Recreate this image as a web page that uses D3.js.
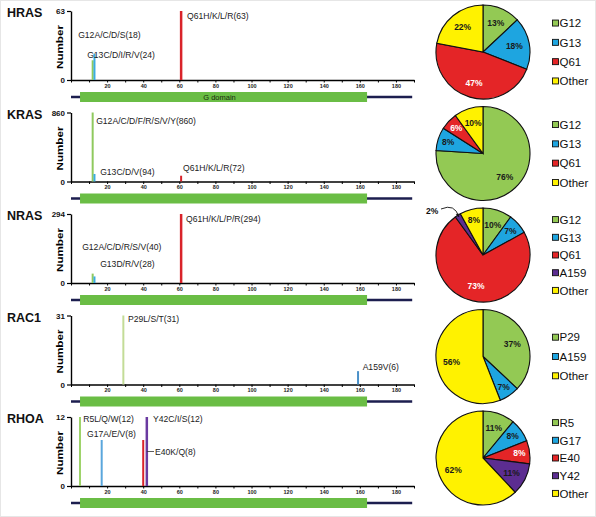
<!DOCTYPE html>
<html><head><meta charset="utf-8">
<script src="https://cdn.jsdelivr.net/npm/d3@7"></script>
<style>body{margin:0;background:#fff}svg{display:block}</style>
</head><body>
<script>
// ---------- DATA ----------
const genes = ["HRAS", "KRAS", "NRAS", "RAC1", "RHOA"];
const yMax = [63, 860, 294, 31, 12];
const mutPos = [[12, 13, 61], [12, 13, 61], [12, 13, 61], [29, 159], [5, 17, 40, 42]];
const mutCount = [[18, 24, 63], [860, 94, 72], [40, 28, 294], [31, 6], [12, 8, 8, 12]];
const mutLabel = [
  ["G12A/C/D/S(18)", "G13C/D/I/R/V(24)", "Q61H/K/L/R(63)"],
  ["G12A/C/D/F/R/S/V/Y(860)", "G13C/D/V(94)", "Q61H/K/L/R(72)"],
  ["G12A/C/D/R/S/V(40)", "G13D/R/V(28)", "Q61H/K/L/P/R(294)"],
  ["P29L/S/T(31)", "A159V(6)"],
  ["R5L/Q/W(12)", "G17A/E/V(8)", "E40K/Q(8)", "Y42C/I/S(12)"]
];
const mutKey = [["G12","G13","Q61"],["G12","G13","Q61"],["G12","G13","Q61"],["P29","A159"],["R5","G17","E40","Y42"]];
const xTicks = [20, 40, 60, 80, 100, 120, 140, 160, 180];
const domainRange = [5, 164];
const proteinEnd = 189;
const domainName = "G domain";
const pieCats = [
  ["G12", "G13", "Q61", "Other"],
  ["G12", "G13", "Q61", "Other"],
  ["G12", "G13", "Q61", "A159", "Other"],
  ["P29", "A159", "Other"],
  ["R5", "G17", "E40", "Y42", "Other"]
];
const piePct = [
  [13, 18, 47, 22],
  [76, 8, 6, 10],
  [10, 7, 73, 2, 8],
  [37, 7, 56],
  [11, 8, 8, 11, 62]
];

// ---------- LAYOUT / STYLE ----------
const W = 596, H = 517;
const pieColorBySlot = ["#93c954", "#1ea5e0", "#e42527", "#5c2d91", "#fff200"];
function pieColor(panel, i) {
  const cat = pieCats[panel][i];
  if (cat === "Other") return "#fff200";
  const n = pieCats[panel].length;
  return pieColorBySlot[i];
}
const barColor = {
  "G12": "#8fc95e", "G13": "#3aace0", "Q61": "#d9232a",
  "P29": "#c3dc97", "A159": "#4a90c8",
  "R5": "#9ed36a", "G17": "#5aa6dc", "E40": "#d9232a", "Y42": "#6a3aa0"
};
// label offsets (px) relative to the stem x and panel baseline
const labelDx = [[-14.5, -7.3, 6], [3.5, 5.7, 2], [-10.5, 5.7, 5], [4.7, 4.6], [3.2, -14.6, 11.8, 6.2]];
const labelDy = [[-42, -22, -61], [-58, -7, -11], [-33, -16, -61], [-63, -15], [-64, -49, -31.5, -64]];

const svg = d3.select("body").append("svg").attr("width", W).attr("height", H)
  .style("font-family", "Arial, 'Liberation Sans', Helvetica, sans-serif");
svg.append("rect").attr("x", 0.5).attr("y", 0.5).attr("width", W - 1).attr("height", H - 1)
  .attr("fill", "#fff").attr("stroke", "#e6e6e6");

const x = d3.scaleLinear().domain([0, 190]).range([71, 414]);

genes.forEach((gene, p) => {
  const y0 = 80 + p * 101.5;
  const y = d3.scaleLinear().domain([0, yMax[p]]).range([y0, y0 - 69]);
  const g = svg.append("g");

  // gene name
  g.append("text").attr("x", 7).attr("y", y0 - 63).text(gene)
    .attr("font-size", 12.5).attr("font-weight", "bold").attr("fill", "#111");

  // Number label
  g.append("text").attr("transform", `translate(63,${y0 - 33}) rotate(-90)`)
    .attr("text-anchor", "middle").attr("font-size", 9.5).attr("font-weight", "bold")
    .attr("textLength", 44).attr("lengthAdjust", "spacingAndGlyphs").text("Number");

  // y axis
  const yAxis = d3.axisLeft(y).tickValues([0, yMax[p]]).tickSize(4).tickPadding(2).tickSizeOuter(0);
  const ya = g.append("g").attr("transform", `translate(${x(0)},0)`).call(yAxis);
  ya.select(".domain").attr("stroke", "#000").attr("stroke-width", 1.4);
  ya.selectAll(".tick line").attr("stroke-width", 1.2);
  ya.selectAll("text").attr("font-size", 8).attr("font-weight", "bold").attr("font-family", "Arial, 'Liberation Sans', sans-serif").attr("fill", "#111");

  // x axis
  const xAxis = d3.axisBottom(x).tickValues(d3.range(0, 191, 10)).tickSize(2.5).tickPadding(1.5).tickSizeOuter(0)
    .tickFormat(d => xTicks.includes(d) ? d : "");
  const xa = g.append("g").attr("transform", `translate(0,${y0})`).call(xAxis);
  xa.select(".domain").attr("stroke", "#000").attr("stroke-width", 1.4);
  xa.selectAll(".tick line").attr("stroke-width", 1);
  xa.selectAll("text").attr("font-size", 5.5).attr("font-weight", "bold").attr("font-family", "Arial, 'Liberation Sans', sans-serif").attr("fill", "#222");

  // protein track
  g.append("line").attr("x1", x(0)).attr("x2", x(proteinEnd)).attr("y1", y0 + 17).attr("y2", y0 + 17)
    .attr("stroke", "#1c1e4f").attr("stroke-width", 2.5);
  g.append("rect").attr("x", x(domainRange[0])).attr("width", x(domainRange[1]) - x(domainRange[0]))
    .attr("y", y0 + 12).attr("height", 10).attr("fill", "#6abd45");
  if (p === 0) {
    g.append("text").attr("x", (x(domainRange[0]) + x(domainRange[1])) / 2 - 4).attr("y", y0 + 19.8)
      .attr("text-anchor", "middle").attr("font-size", 7.5).attr("fill", "#1a2a10").text(domainName);
  }

  // stems
  mutPos[p].forEach((pos, i) => {
    const key = mutKey[p][i];
    g.append("line").attr("x1", x(pos)).attr("x2", x(pos))
      .attr("y1", y(0)).attr("y2", y(mutCount[p][i]))
      .attr("stroke", barColor[key]).attr("stroke-width", (key === "Y42" || (key === "Q61" && p !== 1)) ? 2.5 : 2);
  });
  // labels
  mutPos[p].forEach((pos, i) => {
    g.append("text").attr("x", x(pos) + labelDx[p][i]).attr("y", y0 + labelDy[p][i])
      .attr("font-size", 8.6).attr("fill", "#222").text(mutLabel[p][i]);
  });
  if (p === 4) {
    // leader for E40 label
    const ly = y0 + labelDy[p][2] - 3;
    g.append("line").attr("x1", x(42)).attr("x2", x(40) + labelDx[p][2] - 1).attr("y1", ly).attr("y2", ly)
      .attr("stroke", "#333").attr("stroke-width", 0.8);
  }

  // pie
  const cx = 483, cy = y0 - 28, r = 47;
  const pie = d3.pie().sort(null).value(d => d)(piePct[p]);
  const arc = d3.arc().innerRadius(0).outerRadius(r);
  const pg = g.append("g").attr("transform", `translate(${cx},${cy})`);
  pg.selectAll("path").data(pie).join("path").attr("d", arc)
    .attr("fill", (d, i) => pieColor(p, i)).attr("stroke", "#111").attr("stroke-width", 1.1);
  pie.forEach((d, i) => {
    const pct = piePct[p][i];
    const mid = (d.startAngle + d.endAngle) / 2;
    if (pct < 5) {
      // outside label with curved arrow
      const tx = -57, ty = -44;
      pg.append("text").attr("x", tx).attr("y", ty + 3).attr("font-size", 8.5).attr("font-weight", "bold")
        .attr("fill", "#111").text(pct + "%");
      const ex = Math.sin(mid) * (r - 2), ey = -Math.cos(mid) * (r - 2);
      pg.append("path").attr("d", `M${tx + 15},${ty - 2} Q${ex - 4},${ey - 14} ${ex},${ey}`)
        .attr("fill", "none").attr("stroke", "#111").attr("stroke-width", 0.9);
      pg.append("path").attr("d", `M${ex},${ey} l-3.2,-2.2 l2.6,-1.6 z`).attr("fill", "#111");
      return;
    }
    const lr = pct >= 10 ? r * 0.68 : r * 0.78;
    const cat = pieCats[p][i];
    const white = cat === "Q61" || cat === "E40";
    pg.append("text").attr("x", Math.sin(mid) * lr).attr("y", -Math.cos(mid) * lr + 3)
      .attr("text-anchor", "middle").attr("font-size", 8.5).attr("font-weight", "bold")
      .attr("fill", white ? "#fff" : "#1a1a1a").text(pct + "%");
  });

  // legend
  const n = pieCats[p].length;
  const step = n <= 4 ? 19.3 : 17.7;
  pieCats[p].forEach((c, i) => {
    const ly = cy + (i - (n - 1) / 2) * step;
    g.append("rect").attr("x", 552.5).attr("y", ly - 3).attr("width", 6).attr("height", 6)
      .attr("fill", pieColor(p, i)).attr("stroke", "#111").attr("stroke-width", 0.9);
    g.append("text").attr("x", 559.5).attr("y", ly + 4.2).attr("font-size", 11.5).attr("fill", "#111").text(c);
  });
});
</script>
</body></html>
